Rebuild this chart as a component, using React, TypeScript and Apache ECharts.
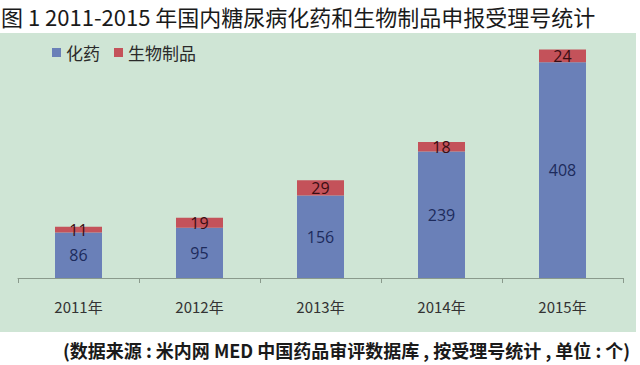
import React, { useEffect, useRef } from "react";
import * as echarts from "echarts";

const categories = ["2011年", "2012年", "2013年", "2014年", "2015年"];
const chemDrug = [86, 95, 156, 239, 408];
const biologics = [11, 19, 29, 18, 24];
const seriesNames = ["化药", "生物制品"];
const titleText = "图 1 2011-2015 年国内糖尿病化药和生物制品申报受理号统计";
const footerText = "(数据来源 : 米内网 MED 中国药品审评数据库 , 按受理号统计 , 单位 : 个)";

export default function App() {
  const ref = useRef<HTMLDivElement>(null);
  useEffect(() => {
    if (!ref.current) return;
    const chart = echarts.init(ref.current, undefined, { renderer: "svg" });
    const cjk = "'Noto Sans CJK SC', 'Noto Sans', sans-serif";
    chart.setOption({
      animation: false,
      backgroundColor: "#ffffff",
      textStyle: { fontFamily: cjk },
      graphic: [
        {
          type: "rect",
          z: -10,
          silent: true,
          shape: { x: 0, y: 33, width: 636, height: 299 },
          style: { fill: "#cfe5d5" },
        },
        {
          type: "text",
          left: 1,
          top: 5,
          style: {
            text: titleText,
            fontSize: 22,
            fontFamily: cjk,
            fill: "#1a1a1a",
          },
        },
        {
          type: "text",
          left: 63,
          top: 341,
          style: {
            text: footerText,
            fontSize: 18,
            fontWeight: "bold",
            fontFamily: cjk,
            fill: "#1a1a1a",
          },
        },
      ],
      legend: {
        left: 47,
        top: 39,
        itemWidth: 9,
        itemHeight: 9,
        itemGap: 14,
        icon: "rect",
        textStyle: { fontSize: 17, color: "#2a2a2a", fontFamily: cjk },
        data: seriesNames,
      },
      grid: { left: 18, right: 17, top: 40, bottom: 87 },
      xAxis: {
        type: "category",
        data: categories,
        axisLine: { lineStyle: { color: "#8a9a8c", width: 1 } },
        axisTick: { show: true, length: 5, lineStyle: { color: "#8a9a8c" } },
        axisLabel: { fontSize: 15, color: "#333333", margin: 21, fontFamily: cjk },
      },
      yAxis: {
        type: "value",
        min: 0,
        max: 450,
        show: false,
        splitLine: { show: false },
      },
      series: [
        {
          name: seriesNames[0],
          type: "bar",
          stack: "total",
          barWidth: 47,
          data: chemDrug,
          itemStyle: { color: "#6a80b8" },
          label: {
            show: true,
            position: "inside",
            fontSize: 16,
            color: "#1d2b5c",
            fontFamily: "'Open Sans', sans-serif",
          },
        },
        {
          name: seriesNames[1],
          type: "bar",
          stack: "total",
          barWidth: 47,
          data: biologics,
          itemStyle: { color: "#c4525a" },
          label: {
            show: true,
            position: "inside",
            fontSize: 16,
            color: "#3a0d12",
            fontFamily: "'Open Sans', sans-serif",
          },
        },
      ],
    });
    return () => chart.dispose();
  }, []);
  return (
    <div
      ref={ref}
      style={{ position: "absolute", left: 0, top: 0, width: 640, height: 365 }}
    />
  );
}
